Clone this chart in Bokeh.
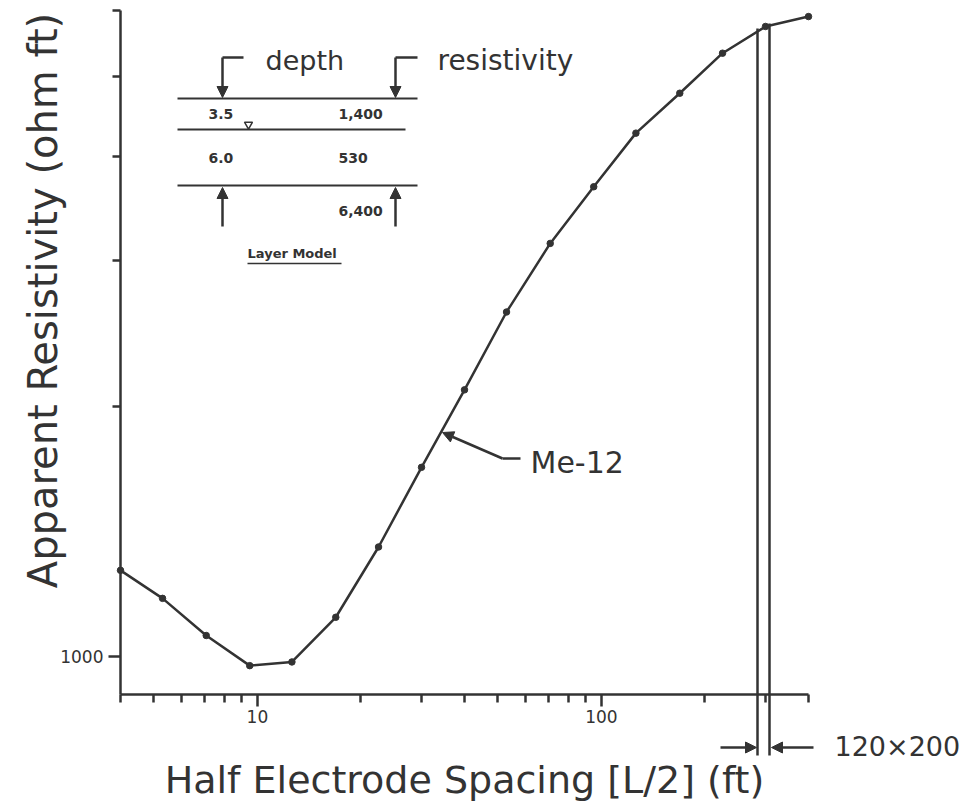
import math
from bokeh.plotting import figure
from bokeh.models import Range1d, FixedTicker, Label, Arrow, NormalHead
from bokeh.embed import file_html
from bokeh.resources import INLINE

# ---- data ----
spacing = [4, 5.3, 7.1, 9.5, 12.6, 16.9, 22.5, 30, 40, 53, 71, 95, 126, 169, 225, 300, 400]
resistivity = [1270, 1175, 1060, 975, 985, 1115, 1355, 1690, 2095, 2600, 3145, 3680,
               4270, 4770, 5330, 5740, 5900]
x_major = [10, 100]
x_minor = [4, 5, 6, 7, 8, 9, 20, 30, 40, 50, 60, 70, 80, 90, 200, 300, 400]
y_major = [1000]
y_minor = [2000, 3000, 4000, 5000, 6000]
layer_depth = ["3.5", "6.0"]
layer_res = ["1,400", "530", "6,400"]

INK = "#333333"
FONT = "DejaVu Sans"
W, H = 969, 805

X0, X1 = 4, 400          # axis extent (data)
Y0, Y1 = 900, 6000
FL, FR, FT, FB = 120, 808, 10, 694  # pixel position of the axes' extent


def X(px):
    return X0 * 10 ** ((px - FL) / (FR - FL) * math.log10(X1 / X0))


def Y(py):
    return Y0 * 10 ** ((FB - py) / (FB - FT) * math.log10(Y1 / Y0))


p = figure(width=W, height=H, x_axis_type="log", y_axis_type="log",
           x_range=Range1d(X(0), X(W)), y_range=Range1d(Y(H), Y(0)),
           output_backend="svg", toolbar_location=None,
           min_border_left=0, min_border_right=0,
           min_border_top=0, min_border_bottom=0)
p.outline_line_color = None
p.grid.visible = False
p.background_fill_color = "white"
p.border_fill_color = "white"

for ax in (p.xaxis[0], p.yaxis[0]):
    ax.axis_line_color = INK
    ax.axis_line_width = 2.5
    ax.major_tick_line_color = INK
    ax.major_tick_line_width = 2.5
    ax.minor_tick_line_color = INK
    ax.minor_tick_line_width = 2.5
    ax.major_tick_in = 0
    ax.minor_tick_in = 0
    ax.major_tick_out = 12
    ax.minor_tick_out = 8
    ax.major_label_text_font = FONT
    ax.major_label_text_color = INK
    ax.major_label_text_font_size = "17px"

p.xaxis.ticker = FixedTicker(ticks=x_major, minor_ticks=x_minor)
p.xaxis.major_label_overrides = {10: "10", 100: "100"}
p.xaxis.major_label_standoff = 3
p.xaxis.bounds = (X0, X1)
p.xaxis.fixed_location = Y0

p.yaxis.ticker = FixedTicker(ticks=y_major, minor_ticks=y_minor)
p.yaxis.major_label_overrides = {1000: "1000"}
p.yaxis.major_label_standoff = 5
p.yaxis.bounds = (Y0, Y1)
p.yaxis.fixed_location = X0

# ---- curve ----
p.line(spacing, resistivity, line_width=2.5, color=INK)
p.scatter(spacing, resistivity, size=6.5, color=INK)


def seg(x0, y0, x1, y1, w=2.5):
    p.add_layout(Arrow(x_start=X(x0), y_start=Y(y0), x_end=X(x1), y_end=Y(y1),
                       end=None, line_color=INK, line_width=w))


def arr(x0, y0, x1, y1, w=2.5, size=11):
    p.add_layout(Arrow(x_start=X(x0), y_start=Y(y0), x_end=X(x1), y_end=Y(y1),
                       end=NormalHead(size=size, fill_color=INK, line_color=INK),
                       line_color=INK, line_width=w))


def txt(px, py, s, size, bold=False, align="left", angle=0.0):
    p.add_layout(Label(x=X(px), y=Y(py), text=s, text_font=FONT,
                       text_font_size=size, text_color=INK,
                       text_font_style="bold" if bold else "normal",
                       text_align=align, text_baseline="middle", angle=angle))


# ---- axis titles ----
txt(464, 779, "Half Electrode Spacing [L/2] (ft)", "38px", align="center")
txt(42, 300, "Apparent Resistivity (ohm ft)", "40px", align="center", angle=math.pi / 2)

# ---- layer model inset ----
seg(222, 57, 243, 57)
seg(395, 57, 417, 57)
arr(222, 57, 222, 97)
arr(395, 57, 395, 97)
txt(265, 60, "depth", "27px")
txt(437, 60, "resistivity", "28px")
seg(177, 98, 417, 98, 2)
seg(177, 129, 405, 129, 2)
seg(177, 185, 417, 185, 2)
p.scatter([X(248)], [Y(124)], marker="inverted_triangle", size=8,
          fill_color="white", line_color=INK, line_width=1.5)
txt(208, 113, layer_depth[0], "14px", True)
txt(338, 113, layer_res[0], "14px", True)
txt(208, 157, layer_depth[1], "14px", True)
txt(338, 157, layer_res[1], "14px", True)
txt(338, 210, layer_res[2], "14px", True)
arr(222, 226, 222, 187)
arr(395, 226, 395, 187)
txt(247, 253, "Layer Model", "13px", True)
seg(247, 263, 341, 263, 1.5)

# ---- Me-12 callout ----
seg(520, 458, 502, 458)
arr(502, 458, 442, 432)
txt(530, 462, "Me-12", "30px")

# ---- 120x200 marker ----
seg(757, 28, 757, 755)
seg(769, 23, 769, 755)
arr(720, 747, 756, 747)
arr(813, 747, 771, 747)
txt(834, 746, "120×200", "27px")

open("out.html", "w").write(file_html(p, INLINE))
